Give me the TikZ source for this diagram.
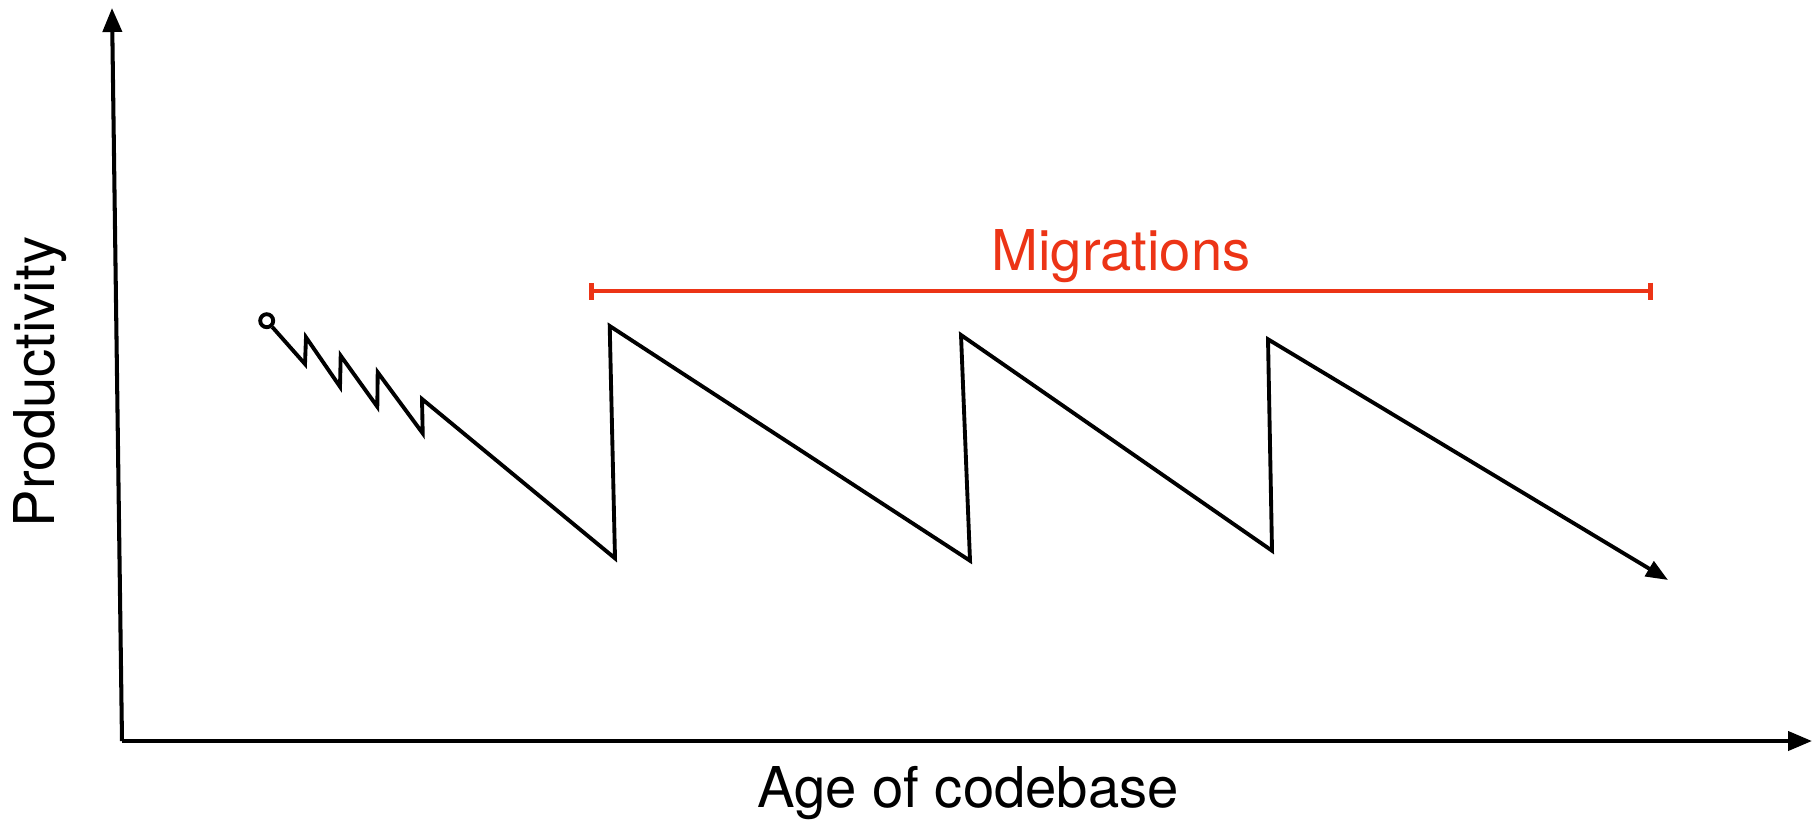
\documentclass[tikz,border=0pt]{standalone}
\usepackage{fontspec}
\setmainfont{TeX Gyre Heros}
\usetikzlibrary{arrows.meta,positioning}
\definecolor{migred}{RGB}{236,52,22}

\begin{document}
\begin{tikzpicture}
		\tikzset{
			axis/.style={line width=1.15pt, -{Triangle[length=0.24cm, width=0.19cm]}},
			trend/.style={line width=1.1pt, black},
			lbl/.style={font=\fontsize{16}{19}\selectfont, inner sep=0pt},
			span/.style={line width=1.3pt, draw=migred, {Bar[width=0.17cm]}-{Bar[width=0.17cm]}}
		}
		\useasboundingbox (0,0) rectangle (18.14,8.22);

		% Axes
		\coordinate (origin) at (1.22, 0.81);
		\coordinate (ytop) at (1.12, 8.14);
		\coordinate (xend) at (18.12, 0.81);
		\draw[axis] (origin) -- (ytop);
		\draw[axis] (origin) -- (xend);

		\node[lbl, rotate=90, anchor=base] (ylabel) at (0.54, 4.40) {Productivity};
		\node[lbl, anchor=base] (xlabel) at (9.68, 0.15) {Age of codebase};

		% Migrations span
		\coordinate (mleft) at (5.89, 5.31);
		\coordinate (mright) at (16.53, 5.31);
		\draw[span] (mleft) -- (mright);
		\node[lbl, text=migred, anchor=base] (mig) at (11.21, 5.52) {Migrations};

		% Productivity over time
		\node[circle, draw, line width=1.1pt, inner sep=0pt, minimum size=0.13cm] (start) at (2.667, 5.013) {};
		\draw[trend, -{Triangle[length=0.22cm, width=0.17cm]}] (start)
			-- (3.05, 4.58) -- (3.06, 4.847)
			-- (3.40, 4.353) -- (3.407, 4.663)
			-- (3.773, 4.153) -- (3.777, 4.497)
			-- (4.227, 3.887) -- (4.22, 4.23)
			-- (6.15, 2.637) -- (6.097, 4.96)
			-- (9.70, 2.613) -- (9.61, 4.87)
			-- (12.72, 2.713) -- (12.68, 4.827)
			-- (16.68, 2.42);

	\end{tikzpicture}
\end{document}
